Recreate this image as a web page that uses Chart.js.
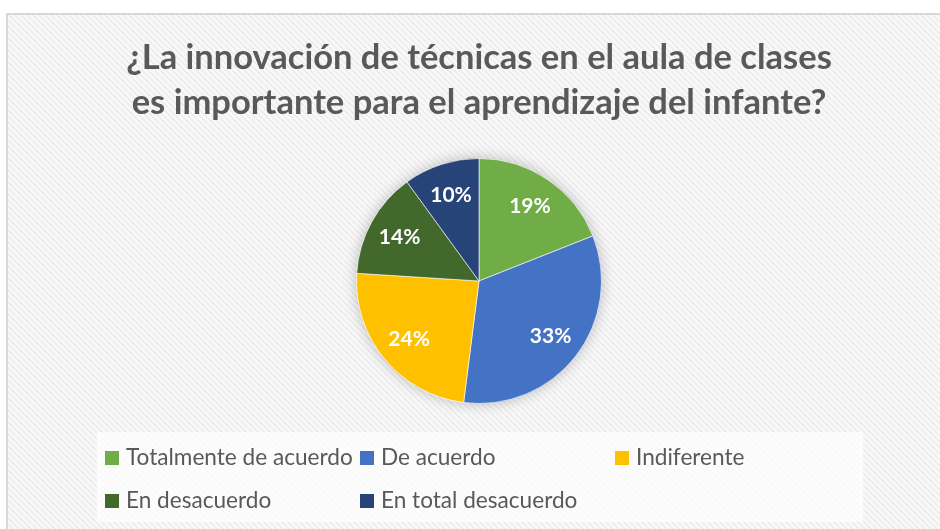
<!DOCTYPE html>
<html>
<head>
    <meta charset="utf-8">
    <title>Innovación de técnicas</title>
    <script src="https://cdn.jsdelivr.net/npm/chart.js@4.4.0/dist/chart.umd.min.js"></script>
    <style>
        html, body { margin: 0; padding: 0; background: #ffffff; }
        #wrap { width: 940px; height: 529px; position: relative; }
    </style>
</head>
<body>
    <div id="wrap">
        <canvas id="pieChart" width="940" height="529"></canvas>
    </div>
    <script>
        // datos de la gráfica
        var categorias = ['Totalmente de acuerdo', 'De acuerdo', 'Indiferente', 'En desacuerdo', 'En total desacuerdo'];
        var porcentajes = [19, 33, 24, 14, 10];
        var colores = ['#70AD47', '#4472C4', '#FFC000', '#43682B', '#264478'];
        var titulo = ['¿La innovación de técnicas en el aula de clases', 'es importante para el aprendizaje del infante?'];

        var FONT = 'Lato, "Open Sans", sans-serif';

        // patrón de fondo tipo trama diagonal
        function makePattern(ctx) {
            var p = document.createElement('canvas');
            p.width = 6; p.height = 6;
            var c = p.getContext('2d');
            c.fillStyle = '#f9f9f9';
            c.fillRect(0, 0, 6, 6);
            c.strokeStyle = '#ebebeb';
            c.lineWidth = 1.5;
            c.beginPath();
            c.moveTo(0, 0); c.lineTo(6, 6);
            c.moveTo(-3, 3); c.lineTo(3, 9);
            c.moveTo(3, -3); c.lineTo(9, 3);
            c.stroke();
            return ctx.createPattern(p, 'repeat');
        }

        var fondo = {
            id: 'fondo',
            beforeDraw: function (chart) {
                var ctx = chart.ctx;
                ctx.save();
                ctx.fillStyle = '#ffffff';
                ctx.fillRect(0, 0, chart.width, chart.height);
                ctx.fillStyle = makePattern(ctx);
                ctx.fillRect(7, 14, chart.width, chart.height);
                ctx.strokeStyle = '#d9d9d9';
                ctx.lineWidth = 2;
                ctx.beginPath();
                ctx.moveTo(7, chart.height + 2);
                ctx.lineTo(7, 14);
                ctx.lineTo(chart.width + 2, 14);
                ctx.stroke();
                // caja de la leyenda
                ctx.fillStyle = 'rgba(255,255,255,0.7)';
                ctx.fillRect(97, 432, 766, 90);
                ctx.restore();
            },
            beforeDatasetsDraw: function (chart) {
                // sombra suave del pastel
                var arc = chart.getDatasetMeta(0).data[0];
                if (!arc) return;
                var ctx = chart.ctx;
                ctx.save();
                ctx.shadowColor = 'rgba(0,0,0,0.25)';
                ctx.shadowBlur = 14;
                ctx.fillStyle = '#ffffff';
                ctx.beginPath();
                ctx.arc(arc.x, arc.y, arc.outerRadius, 0, Math.PI * 2);
                ctx.fill();
                ctx.restore();
            }
        };

        // etiquetas de porcentaje dentro de cada sector
        var etiquetas = {
            id: 'etiquetas',
            afterDatasetsDraw: function (chart) {
                var ctx = chart.ctx;
                var meta = chart.getDatasetMeta(0);
                ctx.save();
                ctx.fillStyle = '#ffffff';
                ctx.font = 'bold 21px ' + FONT;
                ctx.textAlign = 'center';
                ctx.textBaseline = 'middle';
                meta.data.forEach(function (arc, i) {
                    var mid = (arc.startAngle + arc.endAngle) / 2;
                    var r = arc.outerRadius * 0.74;
                    ctx.fillText(porcentajes[i] + '%', arc.x + Math.cos(mid) * r, arc.y + Math.sin(mid) * r);
                });
                ctx.restore();
            }
        };

        // leyenda en cuadrícula de 3 columnas
        var leyenda = {
            id: 'leyenda',
            afterDraw: function (chart) {
                var ctx = chart.ctx;
                var colX = [105, 360, 615];
                var rowY = [458, 501];
                ctx.save();
                ctx.font = '22.6px ' + FONT;
                ctx.textBaseline = 'middle';
                chart.data.labels.forEach(function (lab, i) {
                    var x = colX[i % 3], y = rowY[Math.floor(i / 3)];
                    ctx.fillStyle = chart.data.datasets[0].backgroundColor[i];
                    ctx.fillRect(x, y - 7, 14, 14);
                    ctx.fillStyle = '#595959';
                    ctx.fillText(lab, x + 21, y);
                });
                ctx.restore();
            }
        };

        var ctx = document.getElementById('pieChart').getContext('2d');
        var chart = new Chart(ctx, {
            type: 'pie',
            data: {
                labels: categorias,
                datasets: [{
                    data: porcentajes,
                    backgroundColor: colores,
                    borderColor: 'rgba(255,255,255,0.6)',
                    borderWidth: 1
                }]
            },
            options: {
                responsive: false,
                animation: false,
                layout: { padding: { top: 0, bottom: 125, left: 100, right: 82 } },
                plugins: {
                    legend: { display: false },
                    tooltip: { enabled: false },
                    title: {
                        display: true,
                        text: titulo,
                        color: '#595959',
                        font: { family: FONT, size: 34.5, weight: 'bold', lineHeight: 1.3043 },
                        padding: { top: 35.5, bottom: 32.5 }
                    }
                }
            },
            plugins: [fondo, etiquetas, leyenda]
        });
    </script>
</body>
</html>
